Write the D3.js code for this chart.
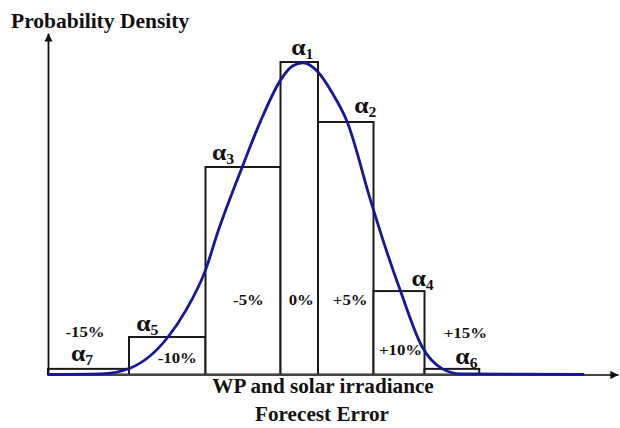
<!DOCTYPE html>
<html>
<head>
<meta charset="utf-8">
<script src="https://cdn.jsdelivr.net/npm/d3@7/dist/d3.min.js"></script>
<style>
  html, body { margin: 0; padding: 0; background: #fff; }
  svg { display: block; }
  text { font-family: "Liberation Serif", "Times New Roman", serif; font-weight: bold; fill: #111; }
</style>
</head>
<body>
<svg id="chart" width="620" height="428"></svg>
<script>
// Histogram bins of forecast error (left to right) and their densities
const binEdges   = [-33.5, -22.7, -12.5, -2.5, 2.5, 9.9, 16.7, 24.0];
const binAlpha   = ["7", "5", "3", "1", "2", "4", "6"];
const binDensity = [0.018, 0.12, 0.664, 1.0, 0.808, 0.267, 0.018];
const binLabels  = ["-15%", "-10%", "-5%", "0%", "+5%", "+10%", "+15%"];

// Fitted probability density curve
const curveError   = [-33.5, -26.5, -22.5, -17.5, -15.1, -12.5, -10.9, -7.6, -5.1, -2.5, -0.9, 0.5, 2.5, 4.4, 6.4, 9.5, 11.6, 13.5, 16.4, 19.1, 21.5, 38.0];
const curveDensity = [0, 0.002, 0.021, 0.12, 0.206, 0.334, 0.453, 0.664, 0.814, 0.942, 0.987, 0.997, 0.968, 0.901, 0.808, 0.558, 0.398, 0.267, 0.088, 0.018, 0.002, 0];

const yTitle = "Probability Density";
const xTitle = ["WP and solar irradiance", "Forecest Error"];

// Label placement relative to each bar: [alpha dx, alpha dy above top],
// percent label: [dx, dy, anchor] where anchor "base" = baseline, "top" = bar top
const alphaPlace = [[-6.5, -8], [-20, -6], [-20, -7], [3, -7], [19.5, -9], [23.5, -5], [14.5, -5]];
const pctPlace = [[-3.5, -32, "top"], [10, -11.5, "base"], [5.5, -69.5, "base"], [2, -69.5, "base"],
                  [4.5, -69.5, "base"], [1.5, -19.5, "base"], [13.5, -31, "top"]];

const svg = d3.select("#chart");

const x = d3.scaleLinear().domain([-33.5, 42.5]).range([48, 618]);
const y = d3.scaleLinear().domain([0, 1]).range([374.5, 62]);
const yAxisScale = y.copy().domain([0, 1.093]).range([y(0), y(1.093)]);

const bins = binDensity.map((d, i) => ({
  x0: binEdges[i], x1: binEdges[i + 1], v: d,
  alpha: binAlpha[i], label: binLabels[i], ap: alphaPlace[i], pp: pctPlace[i]
}));

// arrowheads
const defs = svg.append("defs");
defs.append("marker")
  .attr("id", "arrow").attr("viewBox", "0 0 10 10")
  .attr("refX", 10).attr("refY", 5)
  .attr("markerWidth", 5).attr("markerHeight", 4.5)
  .attr("markerUnits", "strokeWidth")
  .attr("orient", "auto")
  .append("path").attr("d", "M0,0 L10,5 L0,10 z").attr("fill", "#111");

// bars
svg.append("g").selectAll("rect").data(bins).join("rect")
  .attr("x", d => x(d.x0))
  .attr("y", d => y(d.v))
  .attr("width", d => x(d.x1) - x(d.x0))
  .attr("height", d => y(0) - y(d.v))
  .attr("fill", "#fff")
  .attr("stroke", "#1a1a1a")
  .attr("stroke-width", 2);

// axes (no ticks, arrow at the far end)
const xAxis = svg.append("g").attr("transform", `translate(0,${y(0)})`)
  .call(d3.axisBottom(x).tickValues([]).tickSizeOuter(0));
xAxis.select(".domain").attr("stroke", "#444").attr("stroke-width", 1.8).attr("marker-end", "url(#arrow)");

const yAxis = svg.append("g").attr("transform", `translate(${x(-33.5)},0)`)
  .call(d3.axisLeft(yAxisScale).tickValues([]).tickSizeOuter(0));
yAxis.select(".domain").attr("stroke", "#111").attr("stroke-width", 1.8).attr("marker-end", "url(#arrow)");

// density curve
const pts = curveError.map((e, i) => [e, curveDensity[i]]);
svg.append("path")
  .datum(pts)
  .attr("fill", "none")
  .attr("stroke", "#16169a")
  .attr("stroke-width", 2.8)
  .attr("d", d3.line().x(d => x(d[0])).y(d => y(d[1])).curve(d3.curveMonotoneX));

// alpha labels
const mid = d => (x(d.x0) + x(d.x1)) / 2;
const aLab = svg.append("g").selectAll("text").data(bins).join("text")
  .attr("text-anchor", "middle")
  .attr("transform", d => `translate(${mid(d) + d.ap[0]},${y(d.v) + d.ap[1]}) scale(1.12,1)`)
  .style("font-size", "23px");
aLab.append("tspan").text("α");
aLab.append("tspan").attr("dy", 4).style("font-size", "14px").text(d => d.alpha);

// percent labels
svg.append("g").selectAll("text").data(bins).join("text")
  .attr("text-anchor", "middle")
  .attr("transform", d => {
    const base = d.pp[2] === "top" ? y(d.v) : y(0);
    return `translate(${mid(d) + d.pp[0]},${base + d.pp[1]}) scale(1.2,1)`;
  })
  .style("font-size", "14px")
  .text(d => d.label);

// axis titles
svg.append("text").attr("x", 11).attr("y", 28).style("font-size", "21.5px").text(yTitle);
svg.append("text").attr("text-anchor", "middle")
  .attr("transform", "translate(323,393) scale(1.06,1)")
  .style("font-size", "20px").text(xTitle[0]);
svg.append("text").attr("text-anchor", "middle")
  .attr("transform", "translate(322,421) scale(1.06,1)")
  .style("font-size", "20px").text(xTitle[1]);
</script>
</body>
</html>
